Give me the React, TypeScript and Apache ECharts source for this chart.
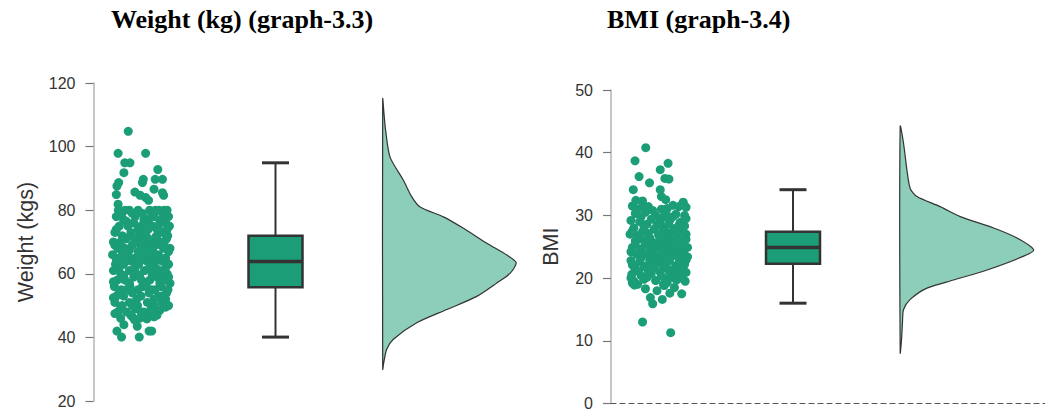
import React, { useEffect, useRef } from "react";
import * as echarts from "echarts";

// ---------- DATA ----------
const titles = ["Weight (kg) (graph-3.3)", "BMI (graph-3.4)"];
const yAxisNames = ["Weight (kgs)", "BMI"];
const weightTicks = { min: 20, max: 120, interval: 20 };
const bmiTicks = { min: 0, max: 50, interval: 10 };

// [jitter (-1..1), weight]
const weightPoints: [number, number][] = [
  [-0.44, 104.8], [-0.79, 97.9], [0.16, 97.9], [-0.56, 94.9], [-0.38, 94.9], [-0.59, 91.8], [0.58, 92.8],
  [0.08, 89.7], [0.05, 88.7], [0.49, 89.7], [0.74, 89.7], [-0.77, 88.7], [-0.83, 87.6], [0.45, 86.6],
  [0.74, 85.5], [0.78, 84.7], [-0.21, 85.7], [-0.03, 84.7], [-0.85, 84.9], [0.16, 84.0], [0.26, 83.1], [-0.79, 81.9],
  [-0.67, 40.1], [-0.06, 40.1], [-0.83, 42.0], [0.28, 42.0], [0.37, 42.0], [-0.59, 44.0], [-0.13, 43.5],
  [0.2, 45.8], [-0.3, 46.5], [-0.22, 45.5], [0.95, 50.0], [0.55, 48.2],
  [-0.78, 80], [-0.55, 80], [-0.4, 80], [-0.1, 80], [0.3, 80], [0.5, 80], [0.62, 80], [0.8, 80], [0.9, 80],
  [-0.85, 78], [-0.6, 77], [-0.2, 78], [0.1, 77], [0.45, 78], [0.7, 77], [0.95, 78],
  [-0.75, 75], [-0.45, 75], [-0.25, 76], [0.0, 75], [0.2, 76], [0.4, 75], [0.6, 75], [0.85, 76], [0.98, 75],
  [-0.9, 73], [-0.65, 72], [-0.35, 73], [-0.05, 72], [0.15, 73], [0.55, 72], [0.75, 73], [0.92, 72],
  [-0.95, 70], [-0.7, 70], [-0.5, 71], [-0.15, 70], [0.05, 71], [0.35, 70], [0.65, 70], [0.88, 71],
  [-0.8, 68], [-0.55, 68], [-0.3, 69], [0.0, 68], [0.25, 68], [0.5, 69], [0.78, 68], [1.0, 68],
  [-0.98, 66], [-0.75, 65], [-0.45, 66], [-0.2, 65], [0.1, 66], [0.4, 65], [0.6, 66], [0.85, 65],
  [-0.88, 63], [-0.6, 63], [-0.35, 64], [-0.08, 63], [0.2, 64], [0.45, 63], [0.72, 64], [0.95, 63],
  [-0.95, 61], [-0.7, 60], [-0.4, 61], [-0.15, 60], [0.12, 61], [0.38, 60], [0.62, 61], [0.9, 60],
  [-0.82, 58], [-0.55, 58], [-0.25, 59], [0.02, 58], [0.3, 58], [0.55, 59], [0.8, 58], [1.0, 57],
  [-0.92, 56], [-0.68, 55], [-0.38, 56], [-0.1, 55], [0.18, 56], [0.48, 55], [0.7, 56], [0.93, 55],
  [-0.85, 53], [-0.6, 53], [-0.3, 54], [0.0, 53], [0.28, 54], [0.6, 53], [0.85, 52],
  [-0.9, 51], [-0.65, 50], [-0.4, 51], [-0.12, 50], [0.22, 51], [0.45, 50], [0.72, 51],
  [-0.8, 48], [-0.5, 48], [-0.2, 49], [0.1, 48], [0.55, 47],
  [-0.7, 46], [-0.35, 47], [-0.05, 46], [0.25, 47],
  [-0.66, 79], [-0.3, 79], [0.05, 79], [0.4, 79], [0.75, 79],
  [-0.5, 76.5], [0.3, 77.5], [0.65, 76.5],
  [-0.85, 74], [-0.1, 74], [0.25, 74], [0.55, 74], [0.9, 74],
  [-0.6, 71.5], [-0.25, 71.5], [0.2, 71.5], [0.5, 71.5], [0.8, 70],
  [-0.9, 69], [-0.4, 67.5], [0.15, 69.5], [0.4, 67.5], [0.7, 69],
  [-0.65, 67], [-0.1, 67], [0.3, 66.5], [0.95, 67],
  [-0.85, 64.5], [-0.5, 64.5], [0.05, 64.5], [0.6, 64.5], [0.85, 62],
  [-0.75, 62], [-0.2, 62], [0.3, 62], [0.55, 61.5],
  [-0.6, 59.5], [-0.05, 59.5], [0.45, 59.5], [0.7, 59.5], [0.95, 59],
  [-0.95, 57.5], [-0.4, 57], [0.15, 57], [0.65, 57],
  [-0.75, 54.5], [-0.5, 55], [0.05, 56], [0.35, 55], [0.88, 54],
  [-0.95, 52.5], [-0.15, 52], [0.45, 52], [0.7, 53],
  [-0.7, 49.5], [-0.3, 50], [0.35, 49], [0.65, 48.5], [0.85, 49.5],
  [-0.9, 47.5], [0.0, 48], [0.45, 46.5],
];

// [jitter (-1..1), BMI]
const bmiPoints: [number, number][] = [
  [-0.44, 40.8], [-0.81, 38.7], [0.33, 38.3], [0.06, 37.3], [-0.67, 36.2], [0.22, 35.9], [0.36, 35.8],
  [-0.31, 35.2], [-0.87, 34.1], [0.06, 34.1], [-0.78, 32.4], [0.1, 33.0], [0.25, 32.5], [-0.55, 32.3], [0.85, 32.1],
  [-0.55, 13.0], [0.42, 11.3], [0.8, 17.5], [-0.2, 15.9], [-0.28, 16.9], [0.13, 16.6], [0.39, 17.6],
  [-0.05, 18.0], [0.17, 19.0], [-0.83, 18.9], [-0.45, 18.3], [0.55, 18.5], [-0.9, 19.2],
  [-0.9, 31.5], [-0.6, 31.2], [-0.35, 31.4], [0.1, 31.0], [0.5, 31.6], [0.85, 32.0], [0.95, 31.3],
  [-0.8, 30.3], [-0.45, 30.5], [-0.1, 30.0], [0.25, 30.4], [0.6, 30.2], [0.9, 30.0],
  [-0.95, 29.2], [-0.65, 29.0], [-0.25, 29.4], [0.05, 29.0], [0.4, 29.3], [0.75, 28.9],
  [-0.85, 28.0], [-0.5, 28.2], [-0.15, 27.8], [0.2, 28.1], [0.55, 27.9], [0.9, 28.3],
  [-0.98, 27.0], [-0.7, 26.8], [-0.35, 27.1], [0.0, 26.9], [0.3, 27.2], [0.65, 26.7], [0.95, 27.0],
  [-0.8, 25.9], [-0.5, 26.0], [-0.2, 25.7], [0.15, 26.1], [0.45, 25.8], [0.8, 26.0],
  [-0.9, 24.9], [-0.6, 24.7], [-0.3, 25.0], [0.05, 24.8], [0.35, 25.0], [0.7, 24.6], [1.0, 24.9],
  [-0.75, 23.8], [-0.45, 23.9], [-0.1, 23.6], [0.25, 23.9], [0.55, 23.7], [0.88, 23.8],
  [-0.95, 22.8], [-0.65, 22.6], [-0.3, 22.9], [0.0, 22.5], [0.38, 22.8], [0.72, 22.6], [0.95, 22.9],
  [-0.82, 21.6], [-0.5, 21.8], [-0.18, 21.5], [0.18, 21.7], [0.5, 21.4], [0.85, 21.6],
  [-0.92, 20.6], [-0.6, 20.4], [-0.25, 20.7], [0.1, 20.3], [0.42, 20.6], [0.78, 20.5],
  [-0.85, 19.5], [-0.5, 19.8], [-0.1, 19.6], [0.3, 19.3], [0.62, 19.7], [0.92, 19.5],
  [-0.72, 19.0], [0.2, 18.8],
  [-0.75, 31.0], [-0.2, 30.8], [0.3, 31.1], [0.7, 31.4],
  [-0.6, 29.8], [0.15, 29.7], [0.5, 29.8], [0.95, 29.5],
  [-0.4, 28.6], [-0.05, 28.5], [0.35, 28.6], [0.7, 28.4],
  [-0.9, 27.5], [-0.55, 27.4], [0.15, 27.5], [0.5, 27.4], [0.8, 27.6],
  [-0.65, 26.3], [-0.3, 26.4], [0.05, 26.2], [0.35, 26.4], [0.65, 26.3], [0.95, 26.2],
  [-0.8, 25.3], [-0.45, 25.4], [-0.05, 25.3], [0.2, 25.4], [0.55, 25.3], [0.85, 25.4],
  [-0.95, 24.2], [-0.2, 24.3], [0.15, 24.2], [0.5, 24.3], [0.8, 24.1],
  [-0.6, 23.2], [-0.25, 23.2], [0.1, 23.1], [0.4, 23.3], [0.7, 23.2], [1.0, 23.4],
  [-0.9, 22.1], [-0.4, 22.0], [-0.1, 22.2], [0.25, 22.1], [0.6, 22.0], [0.9, 22.2],
  [-0.7, 21.1], [-0.35, 21.2], [0.05, 21.0], [0.35, 21.2], [0.65, 21.0], [0.95, 20.9],
  [-0.95, 20.0], [-0.4, 20.1], [0.25, 19.9], [0.5, 20.1], [0.8, 20.0],
];

// box stats: [min, Q1, median, Q3, max]
const weightBox = [40.1, 55.8, 63.9, 72.0, 94.9];
const bmiBox = [16.0, 22.3, 24.9, 27.4, 34.1];

// half-violin densities (relative width 0..1) at values
const weightViolinY = [115, 110.2, 105, 96.7, 89.4, 84.2, 81, 77.9, 74.3, 69.6, 65.9, 63.5, 60.2, 57.1, 52.9, 48.75, 44.6, 39.4, 36.25, 32.1, 30];
const weightViolinW = [0, 0.01, 0.022, 0.055, 0.155, 0.218, 0.28, 0.455, 0.605, 0.78, 0.93, 1, 0.955, 0.855, 0.705, 0.48, 0.255, 0.08, 0.03, 0.008, 0];
const bmiViolinY = [44.2, 41.5, 37.3, 34.3, 33.0, 31.4, 29.8, 28.0, 26.4, 24.5, 23.5, 21.3, 19.7, 18.4, 16.6, 15.0, 12.9, 10.2, 8.07];
const bmiViolinW = [0, 0.025, 0.05, 0.075, 0.125, 0.3, 0.45, 0.7, 0.875, 1, 0.925, 0.65, 0.4, 0.2, 0.075, 0.025, 0.017, 0.01, 0];

// ---------- LAYOUT / STYLE ----------
const GREEN = "#1b9e77";
const VIOLIN_FILL = "#8dcebb";
const DARK = "#333333";
const SCATTER_X = 47.5;
const JITTER = 29;
const BOX_X = 182;
const BOX_HALF = 27;
const CAP_HALF = 13.5;
const VIOLIN_X = 289.2;
const VIOLIN_W = 133.5;

function boxRender(params: any, api: any) {
  const cx = api.value(0);
  const pMin = api.coord([cx, api.value(1)]);
  const pQ1 = api.coord([cx, api.value(2)]);
  const pMed = api.coord([cx, api.value(3)]);
  const pQ3 = api.coord([cx, api.value(4)]);
  const pMax = api.coord([cx, api.value(5)]);
  const x = pMin[0];
  return {
    type: "group",
    children: [
      { type: "line", shape: { x1: x, y1: pMax[1], x2: x, y2: pQ3[1] }, style: { stroke: DARK, lineWidth: 2 } },
      { type: "line", shape: { x1: x, y1: pQ1[1], x2: x, y2: pMin[1] }, style: { stroke: DARK, lineWidth: 2 } },
      { type: "line", shape: { x1: x - CAP_HALF, y1: pMax[1], x2: x + CAP_HALF, y2: pMax[1] }, style: { stroke: DARK, lineWidth: 3 } },
      { type: "line", shape: { x1: x - CAP_HALF, y1: pMin[1], x2: x + CAP_HALF, y2: pMin[1] }, style: { stroke: DARK, lineWidth: 3 } },
      {
        type: "rect",
        shape: { x: x - BOX_HALF, y: pQ3[1], width: BOX_HALF * 2, height: pQ1[1] - pQ3[1] },
        style: { fill: GREEN, stroke: DARK, lineWidth: 2.5 },
      },
      { type: "line", shape: { x1: x - BOX_HALF, y1: pMed[1], x2: x + BOX_HALF, y2: pMed[1] }, style: { stroke: DARK, lineWidth: 3.5 } },
    ],
  };
}

function violinRender(ys: number[], ws: number[]) {
  return (params: any, api: any) => {
    const pts = ys.map((y, i) => api.coord([VIOLIN_X + ws[i] * VIOLIN_W, y]));
    return {
      type: "polygon",
      shape: { points: pts, smooth: 0.25 },
      style: { fill: VIOLIN_FILL, stroke: DARK, lineWidth: 1.2 },
    };
  };
}

function yAxis(idx: number, t: { min: number; max: number; interval: number }, gap: number) {
  return {
    type: "value",
    gridIndex: idx,
    min: t.min,
    max: t.max,
    interval: t.interval,
    name: yAxisNames[idx],
    nameLocation: "middle",
    nameGap: gap,
    nameTextStyle: { fontSize: 21.5, color: DARK, fontFamily: "Liberation Sans" },
    axisLine: { show: true, lineStyle: { color: "#b5b5b5", width: 1.5 } },
    axisTick: { show: true, length: 8, lineStyle: { color: "#777", width: 1.2 } },
    axisLabel: { fontSize: 16, color: DARK, fontFamily: "Liberation Sans", margin: 18 },
    splitLine: { show: false },
  };
}

export default function App() {
  const ref = useRef<HTMLDivElement>(null);
  useEffect(() => {
    if (!ref.current) return;
    const chart = echarts.init(ref.current, undefined, { renderer: "svg" });
    const titleStyle = { fontFamily: "Liberation Serif", fontWeight: "bold", fontSize: 26, color: "#000" };
    chart.setOption({
      animation: false,
      backgroundColor: "#fff",
      title: [
        { text: titles[0], left: 111, top: 6, textStyle: titleStyle, padding: 0 },
        { text: titles[1], left: 607, top: 6, textStyle: titleStyle, padding: 0 },
      ],
      grid: [
        { left: 93.5, top: 83, width: 440, height: 318 },
        { left: 611, top: 90, width: 434, height: 313.5 },
      ],
      xAxis: [
        { type: "value", gridIndex: 0, min: 0, max: 440, show: false },
        {
          type: "value", gridIndex: 1, min: 0, max: 434, show: true,
          axisLine: { show: true, onZero: false, lineStyle: { color: "#555", type: [5, 4], width: 1.2 } },
          axisTick: { show: false }, axisLabel: { show: false }, splitLine: { show: false },
        },
      ],
      yAxis: [yAxis(0, weightTicks, 57), yAxis(1, bmiTicks, 49)],
      series: [
        {
          type: "scatter", xAxisIndex: 0, yAxisIndex: 0, symbolSize: 9,
          itemStyle: { color: GREEN, opacity: 1 },
          data: weightPoints.map(([j, v]) => [SCATTER_X + j * JITTER, v]),
        },
        {
          type: "scatter", xAxisIndex: 1, yAxisIndex: 1, symbolSize: 9,
          itemStyle: { color: GREEN, opacity: 1 },
          data: bmiPoints.map(([j, v]) => [SCATTER_X + j * JITTER, v]),
        },
        {
          type: "custom", xAxisIndex: 0, yAxisIndex: 0, renderItem: boxRender,
          encode: { x: 0, y: [1, 2, 3, 4, 5] },
          data: [[BOX_X, ...weightBox]],
        },
        {
          type: "custom", xAxisIndex: 1, yAxisIndex: 1, renderItem: boxRender,
          encode: { x: 0, y: [1, 2, 3, 4, 5] },
          data: [[BOX_X, ...bmiBox]],
        },
        {
          type: "custom", xAxisIndex: 0, yAxisIndex: 0, renderItem: violinRender(weightViolinY, weightViolinW),
          encode: { x: 0, y: 1 }, data: [[VIOLIN_X, weightViolinY[0]]],
        },
        {
          type: "custom", xAxisIndex: 1, yAxisIndex: 1, renderItem: violinRender(bmiViolinY, bmiViolinW),
          encode: { x: 0, y: 1 }, data: [[VIOLIN_X, bmiViolinY[0]]],
        },
      ],
    });
    return () => chart.dispose();
  }, []);
  return <div ref={ref} style={{ position: "fixed", left: 0, top: 0, width: 1045, height: 412 }} />;
}
